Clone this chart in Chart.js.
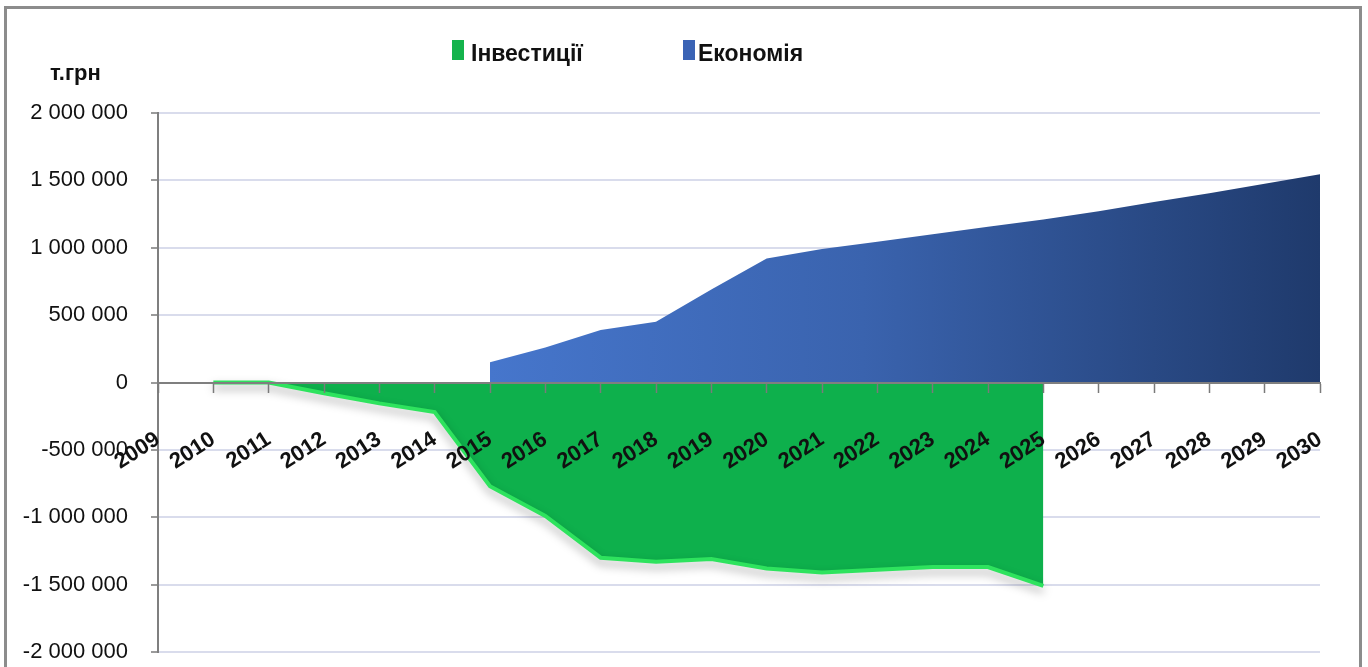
<!DOCTYPE html>
<html>
<head>
<meta charset="utf-8">
<script src="https://cdn.jsdelivr.net/npm/chart.js@4"></script>
<style>
  html, body { margin: 0; padding: 0; background: #ffffff; }
  #wrap { width: 1368px; height: 667px; position: relative; }
</style>
</head>
<body>
<div id="wrap"><canvas id="c" width="1368" height="667"></canvas></div>
<script>
// ---- data ----
const years = ['2009','2010','2011','2012','2013','2014','2015','2016','2017','2018','2019',
               '2020','2021','2022','2023','2024','2025','2026','2027','2028','2029','2030'];
const investments = [null, 0, 0, -80000, -155000, -220000, -770000, -990000, -1300000, -1330000, -1310000,
                     -1380000, -1410000, -1390000, -1370000, -1370000, -1510000, null, null, null, null, null];
const savings = [null, null, null, null, null, null, 150000, 260000, 390000, 450000, 690000,
                 920000, 990000, 1045000, 1100000, 1155000, 1210000, 1270000, 1340000, 1405000, 1475000, 1545000];
const seriesNames = ['Інвестиції', 'Економія'];
const unitLabel = 'т.грн';
const yMin = -2000000, yMax = 2000000, yStep = 500000;

const FONT = '"Liberation Sans", Arial, sans-serif';

function fmt(v) {
  const s = Math.abs(v).toString().replace(/\B(?=(\d{3})+(?!\d))/g, ' ');
  return (v < 0 ? '-' : '') + s;
}

const frameAndLegend = {
  id: 'frameAndLegend',
  beforeDraw(chart) {
    const c = chart.ctx;
    c.save();
    c.fillStyle = '#ffffff';
    c.fillRect(0, 0, chart.width, chart.height);
    c.restore();
  },
  afterDraw(chart) {
    const c = chart.ctx;
    c.save();
    // frame
    c.strokeStyle = '#8c8c8c';
    c.lineWidth = 3;
    c.strokeRect(5.5, 7.5, 1355, 700);
    // unit label
    c.fillStyle = '#111111';
    c.font = 'bold 22px ' + FONT;
    c.textBaseline = 'alphabetic';
    c.textAlign = 'left';
    c.fillText(unitLabel, 50, 80);
    // legend
    const items = [
      {name: seriesNames[0], color: '#14b34c', bx: 452, tx: 471},
      {name: seriesNames[1], color: '#3a63b5', bx: 683, tx: 698}
    ];
    c.font = 'bold 23px ' + FONT;
    items.forEach(it => {
      c.fillStyle = it.color;
      c.fillRect(it.bx, 40, 12, 20);
      c.fillStyle = '#111111';
      c.fillText(it.name, it.tx, 61);
    });
    c.restore();
  }
};

const shadowPlugin = {
  id: 'shadowPlugin',
  beforeDatasetDraw(chart, args) {
    const c = chart.ctx;
    c.save();
    if (args.index === 0) {
      c.shadowColor = 'rgba(0,0,0,0.35)';
      c.shadowBlur = 10;
      c.shadowOffsetY = 5;
    } else {
      c.shadowColor = 'rgba(0,0,0,0.25)';
      c.shadowBlur = 6;
      c.shadowOffsetX = 2;
    }
  },
  afterDatasetDraw(chart) {
    chart.ctx.restore();
  }
};

function blueGradient(context) {
  const chart = context.chart;
  const area = chart.chartArea;
  if (!area) return '#3a63b5';
  const x0 = chart.scales.x.getPixelForValue(6);
  const g = chart.ctx.createLinearGradient(x0, 0, area.right, 0);
  g.addColorStop(0, '#4676cc');
  g.addColorStop(0.45, '#3a63ae');
  g.addColorStop(1, '#1f3a6c');
  return g;
}

new Chart(document.getElementById('c'), {
  type: 'line',
  data: {
    labels: years,
    datasets: [
      {
        label: seriesNames[0],
        data: investments,
        fill: 'origin',
        backgroundColor: '#0eb04c',
        borderColor: '#2ee35e',
        borderWidth: 4,
        pointRadius: 0,
        tension: 0,
        spanGaps: false
      },
      {
        label: seriesNames[1],
        data: savings,
        fill: 'origin',
        backgroundColor: blueGradient,
        borderColor: 'rgba(0,0,0,0)',
        borderWidth: 0,
        pointRadius: 0,
        tension: 0,
        spanGaps: false
      }
    ]
  },
  options: {
    responsive: false,
    animation: false,
    devicePixelRatio: 1,
    layout: { padding: { left: 0, right: 48, top: 113, bottom: 15 } },
    plugins: {
      legend: { display: false },
      tooltip: { enabled: false }
    },
    scales: {
      x: {
        type: 'category',
        position: { y: 0 },
        offset: false,
        grid: {
          display: true,
          drawOnChartArea: false,
          drawTicks: true,
          tickLength: 42,
          tickBorderDash: [9, 200],
          tickColor: '#7a7a7a',
          tickWidth: 1.5,
          z: 1
        },
        border: { display: true, color: '#7f7f7f', width: 2, z: 1 },
        ticks: {
          autoSkip: false,
          minRotation: 33,
          maxRotation: 33,
          padding: 2,
          color: '#111111',
          z: 2,
          font: { family: FONT, size: 22, weight: 'bold' }
        }
      },
      y: {
        min: yMin,
        max: yMax,
        afterFit(scale) { scale.width = 158; },
        grid: {
          color: '#d9dcec',
          lineWidth: 2,
          drawTicks: true,
          tickLength: 30,
          tickBorderDash: [7, 23],
          tickBorderDashOffset: 7,
          tickColor: '#7a7a7a',
          tickWidth: 1.5
        },
        border: { display: true, color: '#7f7f7f', width: 2 },
        ticks: {
          stepSize: yStep,
          padding: 0,
          color: '#111111',
          font: { family: FONT, size: 22 },
          callback: (v) => fmt(v)
        }
      }
    }
  },
  plugins: [frameAndLegend, shadowPlugin]
});
</script>
</body>
</html>
